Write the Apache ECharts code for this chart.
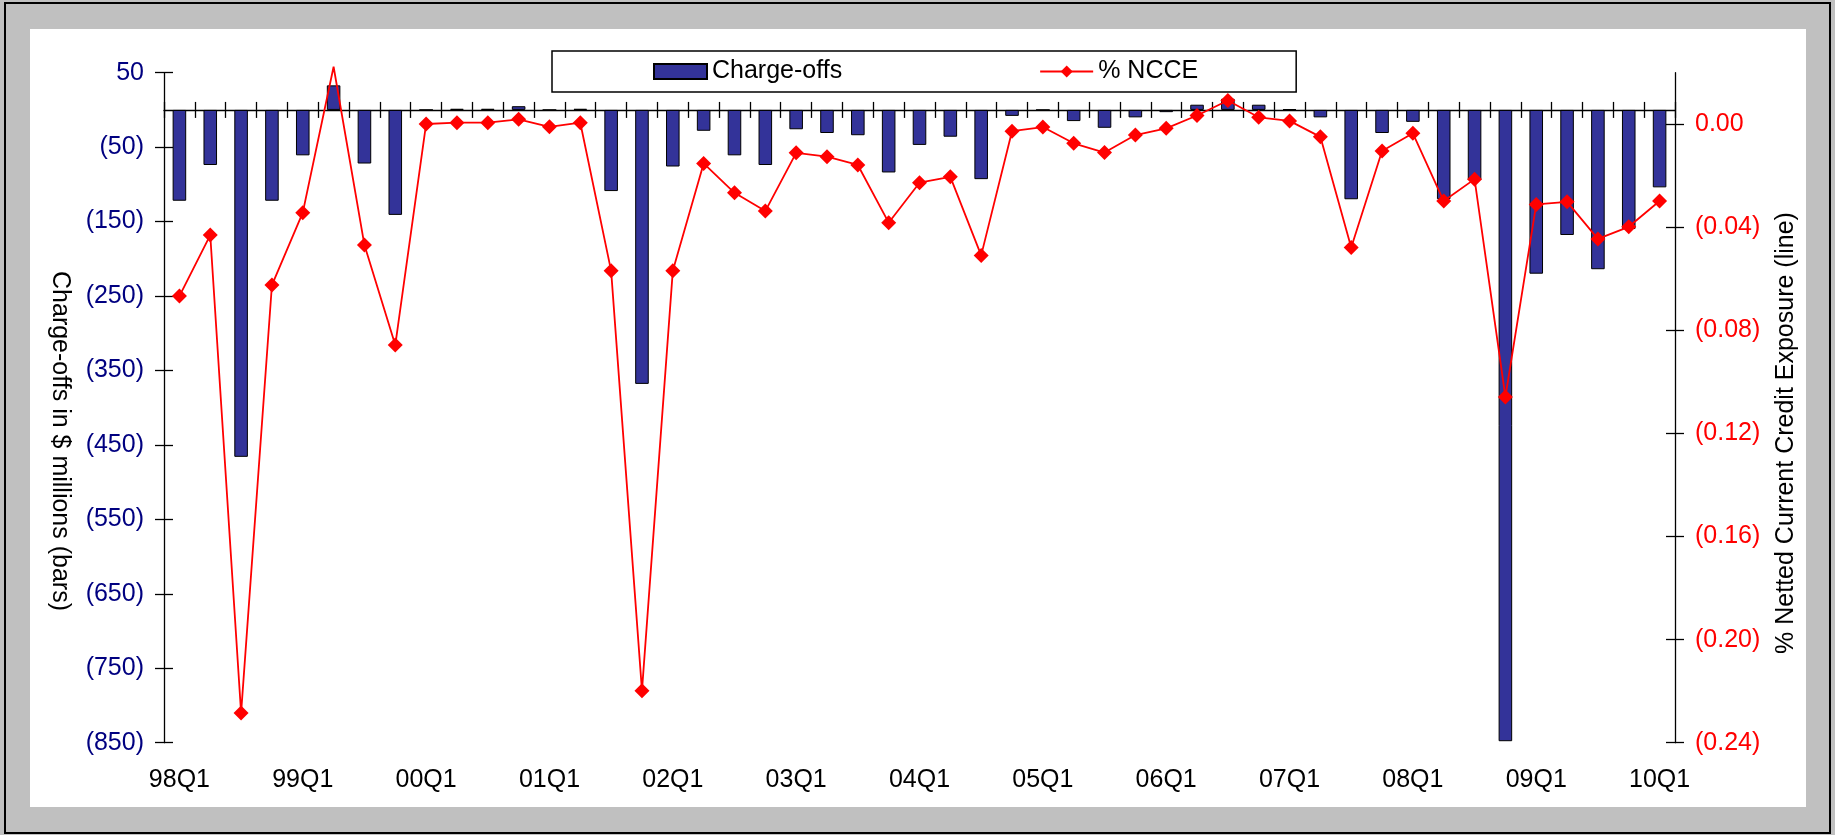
<!DOCTYPE html>
<html>
<head>
<meta charset="utf-8">
<script src="https://cdn.jsdelivr.net/npm/echarts@6/dist/echarts.min.js"></script>
<style>
html,body{margin:0;padding:0;background:#fff;}
#chart{width:1835px;height:835px;}
</style>
</head>
<body>
<div id="chart"></div>
<script>
var categories = [
  '98Q1','98Q2','98Q3','98Q4','99Q1','99Q2','99Q3','99Q4',
  '00Q1','00Q2','00Q3','00Q4','01Q1','01Q2','01Q3','01Q4',
  '02Q1','02Q2','02Q3','02Q4','03Q1','03Q2','03Q3','03Q4',
  '04Q1','04Q2','04Q3','04Q4','05Q1','05Q2','05Q3','05Q4',
  '06Q1','06Q2','06Q3','06Q4','07Q1','07Q2','07Q3','07Q4',
  '08Q1','08Q2','08Q3','08Q4','09Q1','09Q2','09Q3','09Q4',
  '10Q1'
];
// Charge-offs, $ millions (bars)
var chargeOffs = [
  -122, -74, -466, -122, -61, 33, -72, -141,
  0, 1.5, 1.5, 5, 0, 1.5, -109, -368,
  -76, -28, -61, -74, -26, -31, -34, -84,
  -47, -36, -93, -8, 0, -15, -24, -10,
  -3, 7, 15, 7, 1, -10, -120, -31,
  -16, -120, -94, -848, -220, -168, -214, -160,
  -104
];
// % of netted current credit exposure (line)
var ncce = [
  -0.0667, -0.0430, -0.2285, -0.0624, -0.0343, 0.0223, -0.0469, -0.0857,
  0.0001, 0.0006, 0.0006, 0.0019, -0.0010, 0.0006, -0.0569, -0.2198,
  -0.0569, -0.0152, -0.0266, -0.0337, -0.0111, -0.0126, -0.0158, -0.0382,
  -0.0227, -0.0204, -0.0509, -0.0027, -0.0011, -0.0074, -0.0110, -0.0042,
  -0.0016, 0.0034, 0.0092, 0.0027, 0.0013, -0.0049, -0.0478, -0.0104,
  -0.0035, -0.0298, -0.0213, -0.1058, -0.0311, -0.0301, -0.0445, -0.0398,
  -0.0298
];
var leftTicks = [50, -50, -150, -250, -350, -450, -550, -650, -750, -850];
var rightTicks = [0, -0.04, -0.08, -0.12, -0.16, -0.20, -0.24];
var leftMin = -850, leftMax = 50;
var rightMin = -0.24, rightMax = 0.02;

var FONT = '"Liberation Sans", Arial, sans-serif';
var FS = 25;

function fmtLeft(v) {
  var r = Math.round(v);
  return r < 0 ? '(' + Math.abs(r) + ')' : String(r);
}
function fmtRight(v) {
  var s = Math.abs(v).toFixed(2);
  return v < -1e-9 ? '(' + s + ')' : s;
}

var lineData = ncce.map(function (v) {
  return v > rightMax ? { value: v, symbol: 'none' } : v;
});

var chart = echarts.init(document.getElementById('chart'), null, { renderer: 'canvas' });

var tickStyle = { color: '#000', width: 1.3 };

var option = {
  animation: false,
  backgroundColor: '#c0c0c0',
  textStyle: { fontFamily: FONT },
  graphic: [
    { type: 'rect', z: -100, shape: { x: 5, y: 3, width: 1825, height: 830 },
      style: { fill: '#c0c0c0', stroke: '#000', lineWidth: 2 }, silent: true },
    { type: 'rect', z: -99, shape: { x: 30, y: 29, width: 1776, height: 778 },
      style: { fill: '#fff' }, silent: true },
    { type: 'text', z: 10, x: 60, y: 441, rotation: -Math.PI / 2,
      style: { text: 'Charge-offs in $ millions (bars)', font: FS + 'px ' + FONT, fill: '#000',
               align: 'center', verticalAlign: 'middle' } },
    { type: 'text', z: 10, x: 1786, y: 433, rotation: Math.PI / 2,
      style: { text: '% Netted Current Credit Exposure (line)', font: FS + 'px ' + FONT, fill: '#000',
               align: 'center', verticalAlign: 'middle' } }
  ],
  legend: {
    data: [{ name: 'Charge-offs', icon: 'rect' }, { name: '% NCCE' }],
    left: 552, top: 51,
    orient: 'horizontal',
    padding: [8, 98, 8, 101],
    itemGap: 197,
    itemWidth: 53, itemHeight: 15,
    backgroundColor: '#fff',
    borderColor: '#000', borderWidth: 1.5,
    textStyle: { fontFamily: FONT, fontSize: FS, color: '#000' }
  },
  grid: { left: 164, right: 160, top: 72.7, bottom: 92.3, containLabel: false },
  xAxis: [
    { type: 'category', data: categories, position: 'bottom', boundaryGap: true,
      axisLine: { show: true, onZero: true, onZeroAxisIndex: 0, lineStyle: tickStyle },
      axisTick: { show: true, inside: false, length: 8, interval: 0, lineStyle: tickStyle },
      axisLabel: { show: false }, splitLine: { show: false } },
    { type: 'category', data: categories, position: 'bottom', boundaryGap: true,
      axisLine: { show: false, onZero: true, onZeroAxisIndex: 0 },
      axisTick: { show: true, inside: true, length: 8, interval: 0, lineStyle: tickStyle },
      axisLabel: { show: false }, splitLine: { show: false } },
    { type: 'category', data: categories, position: 'bottom', boundaryGap: true,
      axisLine: { show: false, onZero: false },
      axisTick: { show: false },
      axisLabel: { show: true, interval: 3, margin: 25, color: '#000', fontSize: FS, fontFamily: FONT },
      splitLine: { show: false } }
  ],
  yAxis: [
    { type: 'value', position: 'left', min: leftMin, max: leftMax,
      axisLine: { show: true, lineStyle: tickStyle },
      axisTick: { show: true, inside: false, length: 9, customValues: leftTicks, lineStyle: tickStyle },
      axisLabel: { show: true, margin: 20, customValues: leftTicks, formatter: fmtLeft,
                   color: '#000080', fontSize: FS, fontFamily: FONT },
      splitLine: { show: false } },
    { type: 'value', position: 'right', min: rightMin, max: rightMax,
      axisLine: { show: true, lineStyle: tickStyle },
      axisTick: { show: true, inside: false, length: 9, customValues: rightTicks, lineStyle: tickStyle },
      axisLabel: { show: true, margin: 20, customValues: rightTicks, formatter: fmtRight,
                   color: '#ff0000', fontSize: FS, fontFamily: FONT },
      splitLine: { show: false } },
    { type: 'value', position: 'left', min: leftMin, max: leftMax,
      axisLine: { show: false },
      axisTick: { show: true, inside: true, length: 9, customValues: leftTicks, lineStyle: tickStyle },
      axisLabel: { show: false }, splitLine: { show: false } },
    { type: 'value', position: 'right', min: rightMin, max: rightMax,
      axisLine: { show: false },
      axisTick: { show: true, inside: true, length: 9, customValues: rightTicks, lineStyle: tickStyle },
      axisLabel: { show: false }, splitLine: { show: false } }
  ],
  series: [
    { name: 'Charge-offs', type: 'bar', xAxisIndex: 0, yAxisIndex: 0,
      data: chargeOffs, barCategoryGap: '56%',
      itemStyle: { color: '#333399', borderColor: '#000', borderWidth: 1 } },
    { name: '% NCCE', type: 'line', xAxisIndex: 0, yAxisIndex: 1,
      data: lineData, clip: false,
      symbol: 'diamond', symbolSize: 15,
      lineStyle: { color: '#ff0000', width: 1.8 },
      itemStyle: { color: '#ff0000' }, z: 5 }
  ]
};
chart.setOption(option);
</script>
</body>
</html>
